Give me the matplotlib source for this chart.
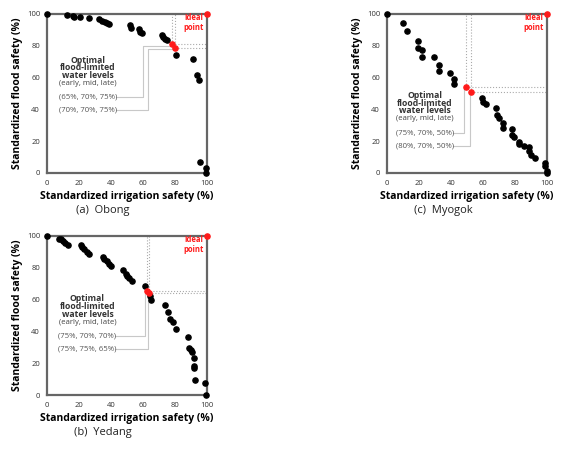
import numpy as np
import matplotlib.pyplot as plt

plt.rcParams['font.family'] = ['Open Sans', 'DejaVu Sans']

# ---- data ----
# (a) Obong
obong_x = [0, 12.3, 16.5, 17.0, 20.7, 26.5, 32.8, 34.3, 36.3, 37.8, 39.0, 51.6, 52.4,
           57.2, 58.2, 59.5, 71.8, 72.4, 73.5, 74.9, 80.8, 91.0, 93.7, 95.2, 95.4, 99.2, 99.6]
obong_y = [100, 99.4, 98.7, 98.2, 97.9, 97.3, 96.6, 95.8, 95.0, 94.1, 93.7, 92.9, 91.2,
           90.4, 88.9, 88.3, 87.0, 85.3, 84.1, 83.6, 74.2, 71.9, 61.6, 58.3, 6.9, 3.4, 0]
obong_opt_x = [78.3, 80.0]
obong_opt_y = [81.1, 78.6]
obong_labels = ['(65%, 70%, 75%)', '(70%, 70%, 75%)']

# (c) Myogok
myogok_x = [0, 9.9, 12.4, 19.2, 19.4, 21.9, 22.1, 29.5, 32.2, 32.2, 39.4, 41.9, 42.1,
            59.6, 59.8, 62.1, 68.4, 68.6, 69.9, 72.6, 72.4, 78.3, 78.3, 79.6, 82.5, 82.5,
            85.9, 88.8, 88.8, 89.7, 92.6, 98.7, 98.9, 99.8, 100]
myogok_y = [100, 94.1, 89.1, 83.2, 78.6, 77.6, 73.0, 73.0, 68.1, 64.4, 62.7, 58.9, 55.8,
            47.4, 44.4, 43.4, 40.7, 36.7, 34.4, 31.2, 28.3, 27.5, 23.9, 22.4, 19.5, 18.0,
            17.0, 16.6, 13.8, 11.1, 9.2, 6.1, 4.6, 1.5, 0]
myogok_opt_x = [49.3, 52.4]
myogok_opt_y = [54.1, 50.9]
myogok_labels = ['(75%, 70%, 50%)', '(80%, 70%, 50%)']

# (b) Yedang
yedang_x = [0, 7.3, 8.8, 9.8, 11.3, 13.4, 21.1, 22.1, 23.4, 25.3, 26.5, 34.7, 35.9, 37.4,
            38.8, 39.9, 47.8, 49.1, 50.1, 51.4, 53.2, 61.0, 64.1, 65.1, 73.9, 75.6, 76.8,
            78.5, 80.8, 87.9, 88.7, 90.0, 90.6, 91.6, 91.9, 91.9, 92.7, 99.0, 99.6]
yedang_y = [100, 98.1, 98.1, 97.1, 95.8, 94.3, 94.3, 92.9, 91.6, 90.1, 88.9, 87.0, 85.3,
            84.3, 82.6, 81.1, 78.8, 76.3, 75.1, 73.8, 71.5, 68.6, 62.3, 59.7, 56.4, 52.2,
            47.6, 45.9, 41.3, 36.3, 29.6, 28.5, 27.3, 23.1, 18.2, 16.8, 9.4, 7.5, 0]
yedang_opt_x = [62.4, 63.9]
yedang_opt_y = [65.2, 64.4]
yedang_labels = ['(75%, 70%, 70%)', '(75%, 75%, 65%)']

ticks = [0, 20, 40, 60, 80, 100]
title_lines = ['Optimal', 'flood-limited', 'water levels']

W, H = 578, 450
fig = plt.figure(figsize=(W / 100, H / 100), dpi=100)


def panel(left_px, top_px, xs, ys, ox, oy, labels, text_x, text_y, label_y, caption,
          jog=None):
    ax = fig.add_axes([left_px / W, 1 - (top_px + 159) / H, 160 / W, 159 / H])
    ax.set_xlim(0, 100)
    ax.set_ylim(0, 100)
    ax.set_xticks(ticks)
    ax.set_yticks(ticks)
    ax.tick_params(length=0, labelsize=5.5, colors='#333333', pad=5)
    for s in ax.spines.values():
        s.set_color('#666666')
        s.set_linewidth(1.6)

    # dotted guides from optimal points to top and right edges
    for px, py in zip(ox, oy):
        ax.plot([px, px], [py, 100], ls=':', color='#aaaaaa', lw=0.8)
        ax.plot([px, 100], [py, py], ls=':', color='#aaaaaa', lw=0.8)

    # leader lines from labels to optimal points
    for i, (px, py) in enumerate(zip(ox, oy)):
        ly = label_y[i]
        if jog is None:
            vx = px - 1 + i * 0.5
            ax.plot([text_x + 17.5, vx, vx], [ly, ly, py - 1.5], color='#c8c8c8', lw=0.8)
        else:
            vx, vy = jog[i]
            ax.plot([text_x + 17.5, vx, vx, px - 1.5], [ly, ly, vy, vy], color='#c8c8c8', lw=0.8)

    ax.scatter(xs, ys, s=14, color='black', zorder=3, clip_on=False)
    ax.scatter(ox, oy, s=14, color='#ff1a1a', zorder=4, clip_on=False)
    ax.scatter([100], [100], s=14, color='#ff1a1a', zorder=4, clip_on=False)

    for k, line in enumerate(title_lines):
        ax.text(text_x, text_y - k * 4.8, line, ha='center', va='center',
                fontsize=6.2, fontweight='bold', color='#333333')
    ax.text(text_x, text_y - 14.8, '(early, mid, late)', ha='center', va='center',
            fontsize=5.6, color='#444444')
    for i, lab in enumerate(labels):
        ax.text(text_x, label_y[i], lab, ha='center', va='center', fontsize=5.6, color='#555555')

    ax.text(91.5, 94.5, 'Ideal\npoint', ha='center', va='center', fontsize=5.5,
            fontweight='bold', color='#ff1a1a', linespacing=1.1)

    ax.set_xlabel('Standardized irrigation safety (%)', fontsize=7.5, fontweight='bold', labelpad=3)
    ax.set_ylabel('Standardized flood safety (%)', fontsize=7.5, fontweight='bold', labelpad=3)
    fig.text((left_px + 56) / W, 1 - (top_px + 197) / H, caption, ha='center', va='center',
             fontsize=8, color='#222222')
    return ax


panel(47, 14, obong_x, obong_y, obong_opt_x, obong_opt_y, obong_labels,
      25.5, 71.0, [47.6, 39.6], '(a)  Obong', jog=[(60.2, 79.9), (63.3, 77.8)])
panel(387, 14, myogok_x, myogok_y, myogok_opt_x, myogok_opt_y, myogok_labels,
      23.8, 48.8, [25.4, 17.0], '(c)  Myogok')
panel(47, 236, yedang_x, yedang_y, yedang_opt_x, yedang_opt_y, yedang_labels,
      25.3, 60.4, [37.1, 28.7], '(b)  Yedang')

fig.savefig('out.png', dpi=100)
